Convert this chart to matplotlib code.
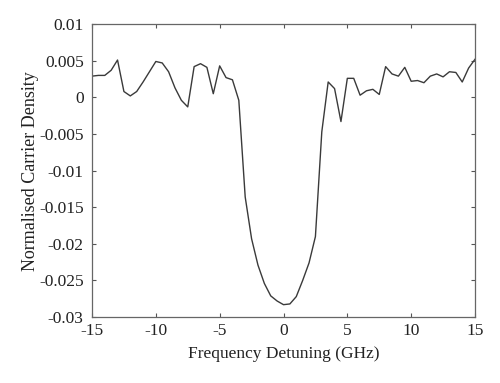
import matplotlib
matplotlib.use("Agg")
import matplotlib.pyplot as plt

plt.rcParams['font.family'] = ['Liberation Serif', 'DejaVu Serif']
plt.rcParams['axes.unicode_minus'] = False

detuning = [x * 0.5 for x in range(-30, 31)]
density = [
    0.0029, 0.0030, 0.0030, 0.0037, 0.0051, 0.0008, 0.0002, 0.0008, 0.0021, 0.0035,
    0.0049, 0.0047, 0.0035, 0.0013, -0.0004, -0.0013, 0.0042, 0.0046, 0.0041, 0.0005,
    0.0043, 0.0027, 0.0024, -0.0004, -0.0136, -0.0193, -0.0229, -0.0254, -0.0271, -0.0278,
    -0.0283, -0.0282, -0.0272, -0.0250, -0.0226, -0.0190, -0.0047, 0.0021, 0.0012, -0.0033,
    0.0026, 0.0026, 0.0003, 0.0009, 0.0011, 0.0004, 0.0042, 0.0032, 0.0029, 0.0041,
    0.0022, 0.0023, 0.0020, 0.0029, 0.0032, 0.0028, 0.0035, 0.0034, 0.0021, 0.0040,
    0.0052,
]
xticks = [-15, -10, -5, 0, 5, 10, 15]
yticks = [0.01, 0.005, 0, -0.005, -0.01, -0.015, -0.02, -0.025, -0.03]
ytick_labels = ['0.01', '0.005', '0', '-0.005', '-0.01', '-0.015', '-0.02', '-0.025', '-0.03']

fig = plt.figure(figsize=(5, 3.83), dpi=100)
ax = fig.add_axes([0.184, 0.172, 0.766, 0.765])
ax.plot(detuning, density, color='#3a3a3a', linewidth=1.0)

ax.set_xlim(-15, 15)
ax.set_ylim(-0.03, 0.01)
ax.set_xticks(xticks)
ax.set_xticklabels([str(t) for t in xticks])
ax.set_yticks(yticks)
ax.set_yticklabels(ytick_labels)
ax.tick_params(direction='in', top=True, right=True, length=3, width=0.8,
               color='#555555', labelsize=12.5, labelcolor='#222222')
ax.tick_params(axis='x', pad=4)
ax.tick_params(axis='y', pad=6)
for s in ax.spines.values():
    s.set_color('#666666')
    s.set_linewidth(0.9)

ax.set_xlabel('Frequency Detuning (GHz)', fontsize=12.5, color='#222222', labelpad=5)
ax.set_ylabel('Normalised Carrier Density', fontsize=13, color='#222222', labelpad=0)

fig.savefig('out.png', dpi=100)
